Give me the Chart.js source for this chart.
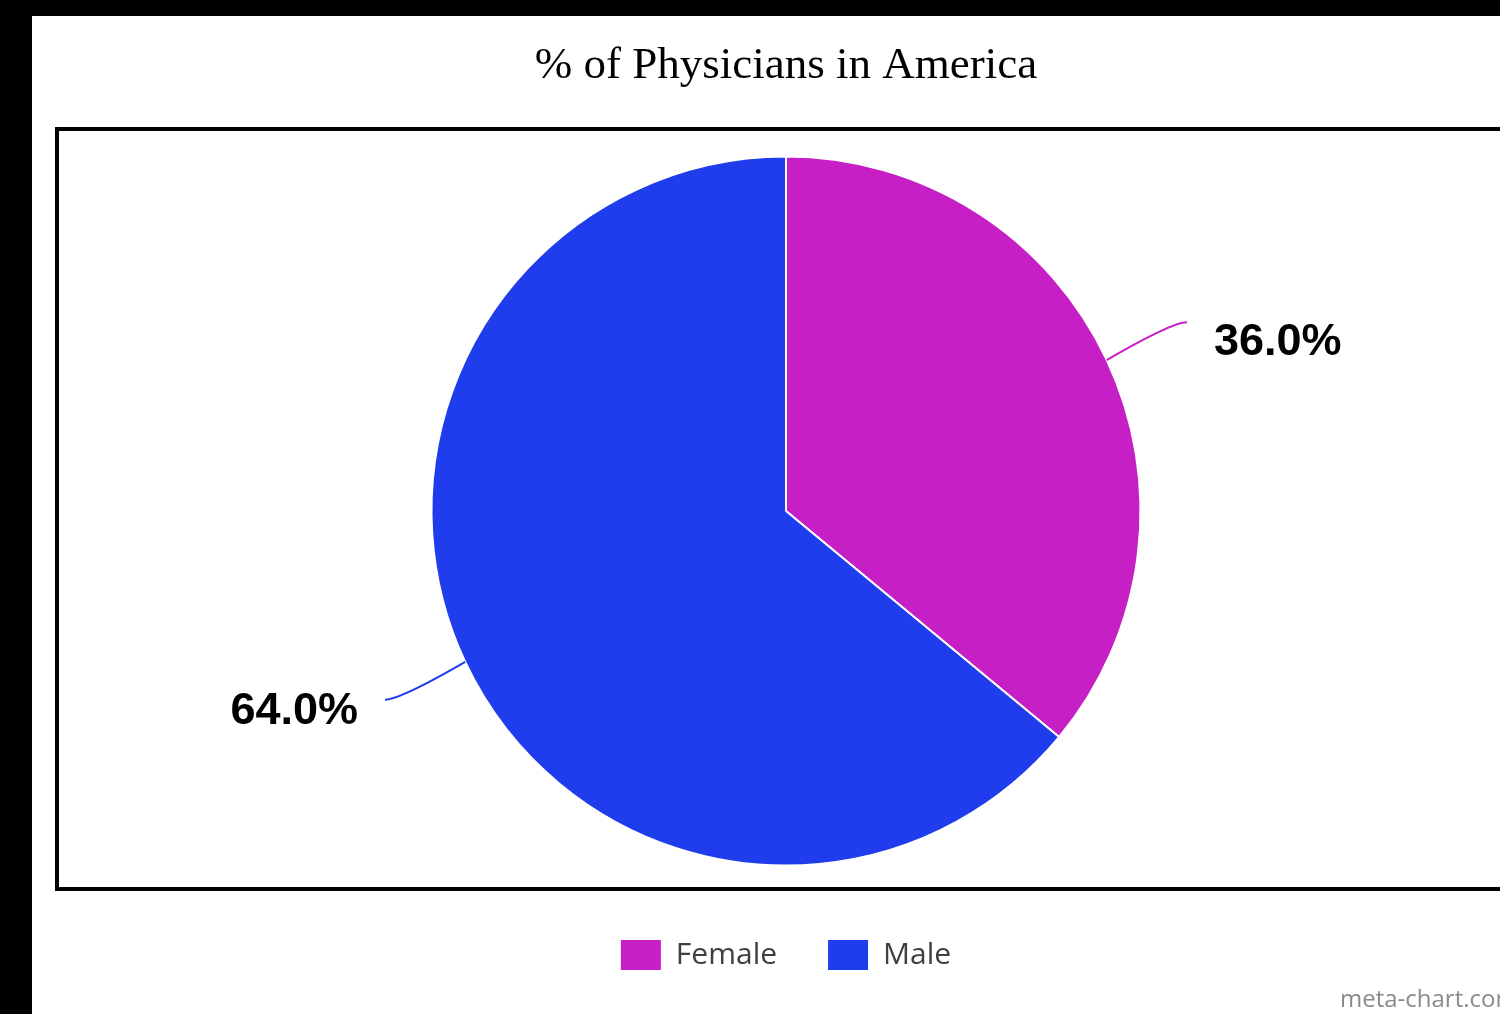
<!DOCTYPE html>
<html>
<head>
<meta charset="utf-8">
<script src="https://cdn.jsdelivr.net/npm/chart.js@4.4.0/dist/chart.umd.min.js"></script>
<style>
  html, body { margin: 0; padding: 0; background: #000; overflow: hidden; width: 1500px; height: 1014px; }
  #wrap { position: absolute; left: 32px; top: 16px; width: 1508px; height: 998px; background: #fff; }
</style>
</head>
<body>
<div id="wrap"><canvas id="grafico" width="1508" height="998"></canvas></div>
<script>
// dados
const categorias = ['Female', 'Male']
const valores = [36.0, 64.0]
const cores = ['#c51fc5', '#1f3ded']

// moldura + marca d'agua
const moldura = {
    id: 'moldura',
    beforeDraw(chart) {
        const ctx = chart.ctx
        ctx.save()
        ctx.strokeStyle = '#000'
        ctx.lineWidth = 4
        ctx.strokeRect(25, 113, 1458, 760)
        ctx.fillStyle = '#8a8a8a'
        ctx.font = '24px "Open Sans"'
        ctx.textBaseline = 'alphabetic'
        ctx.fillText('meta-chart.com', 1308, 991)
        ctx.restore()
    }
}

// rotulos com linha guia
const rotulos = {
    id: 'rotulos',
    afterDatasetsDraw(chart) {
        const ctx = chart.ctx
        const meta = chart.getDatasetMeta(0)
        meta.data.forEach((arc, i) => {
            const p = arc.getProps(['x', 'y', 'startAngle', 'endAngle', 'outerRadius'])
            const meio = (p.startAngle + p.endAngle) / 2
            const cos = Math.cos(meio), sin = Math.sin(meio)
            const lado = cos >= 0 ? 1 : -1
            const x0 = p.x + p.outerRadius * cos
            const y0 = p.y + p.outerRadius * sin
            const x1 = p.x + p.outerRadius * 1.25 * cos
            const y1 = p.y + p.outerRadius * 1.25 * sin
            ctx.save()
            ctx.strokeStyle = cores[i]
            ctx.lineWidth = 2
            ctx.beginPath()
            ctx.moveTo(x0, y0)
            ctx.quadraticCurveTo(x1 - lado * 15, y1, x1, y1)
            ctx.stroke()
            ctx.fillStyle = '#000'
            ctx.font = 'bold 45px "Liberation Sans", Arial, sans-serif'
            ctx.textBaseline = 'middle'
            ctx.textAlign = lado > 0 ? 'left' : 'right'
            ctx.fillText(valores[i].toFixed(1) + '%', x1 + lado * 27, y1 + 16 - 9 * sin)
            ctx.restore()
        })
    }
}

const meuchart = document.getElementById('grafico')

const data = {
    labels: categorias,
    datasets: [{
        data: valores,
        backgroundColor: cores,
        borderColor: '#fff',
        borderWidth: 2,
        radius: 354.5
    }]
}

const config = {
    type: 'pie',
    data: data,
    plugins: [moldura, rotulos],
    options: {
        responsive: false,
        animation: false,
        devicePixelRatio: 1,
        layout: { padding: { top: 0, bottom: 34, left: 0, right: 0 } },
        plugins: {
            tooltip: { enabled: false },
            title: {
                display: true,
                text: '% of Physicians in America',
                color: '#000',
                font: { size: 45, family: '"Liberation Serif", "Times New Roman", serif', weight: 'normal', lineHeight: 1.2 },
                padding: { top: 23, bottom: 40 }
            },
            legend: {
                position: 'bottom',
                labels: {
                    boxWidth: 40,
                    boxHeight: 30,
                    padding: 51,
                    color: '#404040',
                    font: { size: 30, family: '"Open Sans", sans-serif' },
                    generateLabels(chart) {
                        const itens = Chart.overrides.pie.plugins.legend.labels.generateLabels(chart)
                        itens.forEach(it => { it.lineWidth = 0 })
                        return itens
                    }
                }
            }
        }
    }
}

const chart = new Chart(meuchart, config)
</script>
</body>
</html>
